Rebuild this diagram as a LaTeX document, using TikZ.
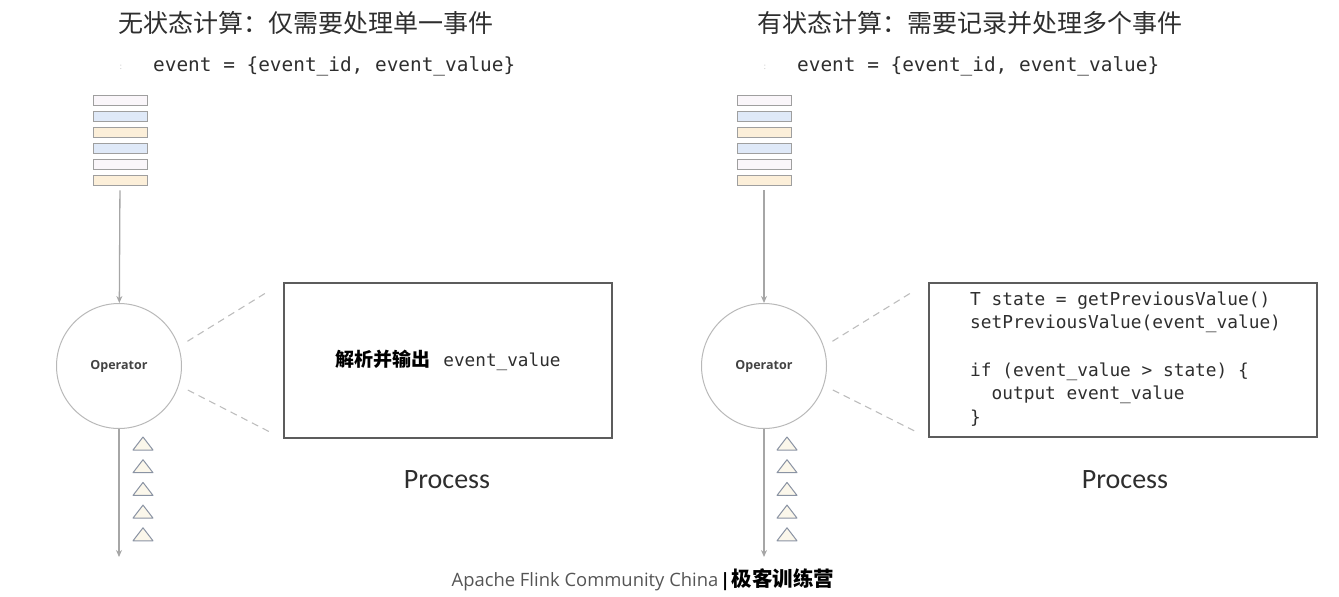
\documentclass[tikz,border=0pt]{standalone}
\usepackage{xcolor}
\usepackage{fontspec}
\setmainfont{Open Sans}
\setmonofont{DejaVu Sans Mono}
\newfontfamily\cjk{Noto Sans CJK SC}
\newfontfamily\calib{Carlito}
\usepackage{tikz}
\usetikzlibrary{positioning, arrows.meta}
\definecolor{inkgray}{HTML}{2E2E2E}
\definecolor{linegray}{HTML}{A6A6A6}
\definecolor{dashgray}{HTML}{BDBDBD}
\definecolor{boxgray}{HTML}{5C5C5C}
\definecolor{footgray}{HTML}{555555}
\definecolor{evwhite}{HTML}{FAF6FA}
\definecolor{evblue}{HTML}{DFE9F8}
\definecolor{evorange}{HTML}{FCEFD9}
\definecolor{trifill}{HTML}{FBF7EB}
\definecolor{triline}{HTML}{8A93A3}

\tikzset{
  evt/.style={draw=gray!75, fill=#1, line width=0.8pt,
              minimum width=54pt, minimum height=10pt, inner sep=0pt},
  opnode/.style={circle, draw=linegray!80, line width=1pt, minimum size=125pt,
                 inner sep=0pt, text=inkgray!90, font=\fontsize{12.5}{14}\selectfont\bfseries},
  flow/.style={draw=linegray, line width=1.3pt, -{Stealth[length=7pt, width=6pt]}},
  zoomline/.style={draw=dashgray, line width=1.1pt, dash pattern=on 7pt off 5pt},
  procbox/.style={draw=boxgray, line width=1.6pt, inner sep=0pt},
  tri/.style={draw=triline, fill=trifill, line width=1pt, line join=round},
  titletext/.style={anchor=west, inner sep=0pt, text=inkgray,
                    font=\cjk\fontsize{25}{28}\selectfont},
  eventtext/.style={anchor=west, inner sep=0pt, text=inkgray,
                    font=\ttfamily\fontsize{19.4}{22}\selectfont},
  proclabel/.style={inner sep=0pt, text=inkgray, font=\calib\fontsize{28}{32}\selectfont},
}

\begin{document}
\begin{tikzpicture}[x=1pt, y=-1pt]
  \useasboundingbox (0,0) rectangle (1339,597);

  % --- stateless side
  \node[titletext] (titlel) at (118,23) {无状态计算：仅需要处理单一事件};
  \node[inner sep=0pt, text=gray!50, font=\fontsize{8}{8}\selectfont] (bull) at (121,67) {:};
  \node[eventtext] (eventl) at (153,66) {event = \{event\_id, event\_value\}};
  \foreach \c [count=\i from 0] in {evwhite,evblue,evorange,evblue,evwhite,evorange}
    \node[evt=\c] (stackl\i) at (120,{100+16*\i}) {};
  \node[opnode] (opl) at (119,366) {Operator};
  \coordinate (outl) at (119,557);
  \draw[flow, shorten <=5pt] (stackl5) -- (opl);
  \draw[flow] (opl) -- (outl);
  \foreach \k in {0,...,4}
    \draw[tri] (133,{450+22.7*\k}) -- (143,{437+22.7*\k}) -- (153,{450+22.7*\k}) -- cycle;
  \node[procbox, minimum width=328pt, minimum height=155pt] (boxl) at (448,360.5) {%
    {\cjk\bfseries\fontsize{19}{22}\selectfont 解析并输出}\hspace{13pt}%
    {\ttfamily\fontsize{17.7}{20}\selectfont\color{inkgray}event\_value}};
  \draw[zoomline, shorten <=10pt, shorten >=18pt] (opl.18) -- (boxl.north west);
  \draw[zoomline, shorten <=10pt, shorten >=13pt] (opl.-18) -- (boxl.south west);
  \node[proclabel] (procl) at (447,480) {Process};

  % --- stateful side
  \node[titletext] (titler) at (757,23) {有状态计算：需要记录并处理多个事件};
  \node[inner sep=0pt, text=gray!50, font=\fontsize{8}{8}\selectfont] (bulr) at (765,67) {:};
  \node[eventtext] (eventr) at (797,66) {event = \{event\_id, event\_value\}};
  \foreach \c [count=\i from 0] in {evwhite,evblue,evorange,evblue,evwhite,evorange}
    \node[evt=\c] (stackr\i) at (764,{100+16*\i}) {};
  \node[opnode] (opr) at (764,366) {Operator};
  \coordinate (outr) at (764,557);
  \draw[flow, shorten <=5pt] (stackr5) -- (opr);
  \draw[flow] (opr) -- (outr);
  \foreach \k in {0,...,4}
    \draw[tri] (777,{450+22.7*\k}) -- (787,{437+22.7*\k}) -- (797,{450+22.7*\k}) -- cycle;
  \node[procbox, minimum width=388pt, minimum height=154pt] (boxr) at (1123,360) {};
  \node[anchor=west, align=left, inner sep=0pt, text=inkgray,
        font=\ttfamily\fontsize{17.8}{23.6}\selectfont] (coder) at (970,359) {%
    T state = getPreviousValue()\\
    setPreviousValue(event\_value)\\[23.6pt]
    if (event\_value > state) \{\\
    \ \ output event\_value\\
    \}};
  \draw[zoomline, shorten <=10pt, shorten >=18pt] (opr.18) -- (boxr.north west);
  \draw[zoomline, shorten <=10pt, shorten >=13pt] (opr.-18) -- (boxr.south west);
  \node[proclabel] (procr) at (1125,480) {Process};

  % --- footer
  \node[inner sep=0pt] (foot) at (643,580) {%
    {\color{footgray}\fontsize{18.4}{22}\selectfont Apache Flink Community China}\,%
    {\fontsize{18.4}{22}\selectfont\bfseries|}\,%
    {\cjk\bfseries\fontsize{20.5}{24}\selectfont 极客训练营}};
\end{tikzpicture}
\end{document}
